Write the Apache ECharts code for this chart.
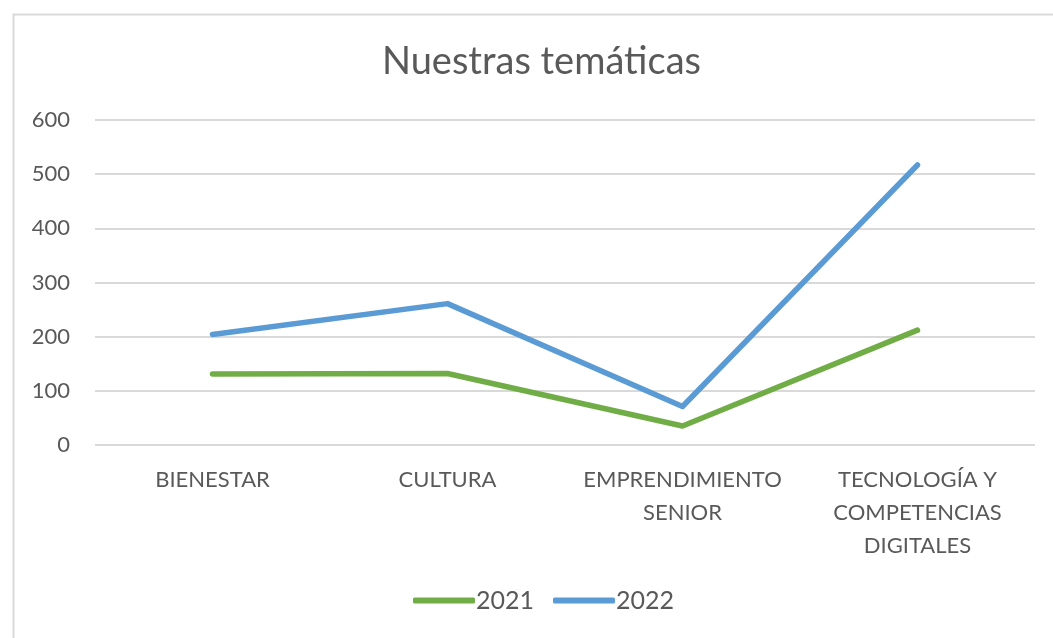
<!DOCTYPE html>
<html>
<head>
<meta charset="utf-8">
<script src="https://cdn.jsdelivr.net/npm/echarts@6/dist/echarts.min.js"></script>
<style>
 html, body { margin: 0; padding: 0; background: #fff; }
 #main { width: 1053px; height: 638px; }
</style>
</head>
<body>
<div id="main"></div>
<script>
var categories = ['BIENESTAR', 'CULTURA', 'EMPRENDIMIENTO\nSENIOR', 'TECNOLOGÍA Y\nCOMPETENCIAS\nDIGITALES'];
var values2021 = [131, 132, 35, 212];
var values2022 = [204, 261, 71, 517];
var yTicks = { min: 0, max: 600, interval: 100 };

var font = 'Lato, "Open Sans", sans-serif';
var chart = echarts.init(document.getElementById('main'));

chart.setOption({
  animation: false,
  backgroundColor: '#fff',
  graphic: [{
    type: 'rect',
    left: 11, top: 12,
    shape: { width: 1100, height: 700 },
    style: { fill: 'none', stroke: '#d9d9d9', lineWidth: 2 },
    silent: true
  }],
  title: {
    text: 'Nuestras temáticas',
    left: 377,
    top: 38,
    textStyle: { fontFamily: font, fontSize: 38, fontWeight: 'normal', color: '#595959' }
  },
  legend: {
    bottom: 20,
    left: 408,
    itemWidth: 62,
    itemHeight: 6,
    itemGap: 19,
    icon: 'roundRect',
    textStyle: { fontFamily: font, fontSize: 25, color: '#595959', padding: [0, 0, 0, -4] },
    data: ['2021', '2022']
  },
  grid: { left: 95, right: 18, top: 120, bottom: 193, containLabel: false },
  xAxis: {
    type: 'category',
    data: categories,
    boundaryGap: true,
    axisLine: { show: false },
    axisTick: { show: false },
    axisLabel: {
      interval: 0,
      margin: 18,
      fontFamily: font,
      fontSize: 22,
      lineHeight: 33,
      color: '#595959'
    }
  },
  yAxis: {
    type: 'value',
    min: yTicks.min,
    max: yTicks.max,
    interval: yTicks.interval,
    axisLine: { show: false },
    axisTick: { show: false },
    splitLine: { lineStyle: { color: '#d9d9d9', width: 2 } },
    axisLabel: { margin: 25, fontFamily: font, fontSize: 22, color: '#595959' }
  },
  series: [{
    name: '2021',
    type: 'line',
    data: values2021,
    symbol: 'none',
    lineStyle: { width: 5.5, color: '#70ad47', cap: 'round', join: 'round' },
    itemStyle: { color: '#70ad47' }
  }, {
    name: '2022',
    type: 'line',
    data: values2022,
    symbol: 'none',
    lineStyle: { width: 5.5, color: '#5b9bd5', cap: 'round', join: 'round' },
    itemStyle: { color: '#5b9bd5' }
  }]
});
</script>
</body>
</html>
